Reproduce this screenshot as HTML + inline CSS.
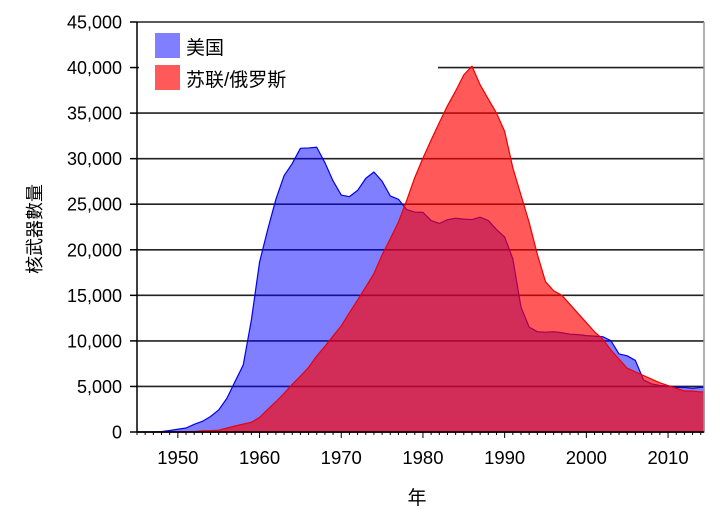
<!DOCTYPE html>
<html><head><meta charset="utf-8"><style>
html,body{margin:0;padding:0;background:#fff;}
svg{display:block;font-family:"Liberation Sans","Noto Sans CJK SC",sans-serif;}
</style></head><body>
<svg id="chart" width="720" height="522" viewBox="0 0 720 522"></svg>
<script>
const years = [];
for (let y = 1945; y <= 2014; y++) years.push(y);
const usValues = [2,9,13,50,170,299,438,841,1169,1703,2422,3692,5543,7345,12298,18638,22229,25540,28133,29463,31139,31175,31255,29561,27552,26008,25830,26516,27835,28537,27519,25914,25542,24418,24138,24104,23208,22886,23305,23459,23368,23317,23575,23205,22217,21392,19008,13708,11511,11012,10953,11011,10903,10732,10685,10577,10526,10457,10027,8570,8360,7853,5709,5273,5113,5066,4897,4881,4804,4900];
const ussrValues = [0,0,0,0,1,5,25,50,120,150,200,426,660,869,1060,1605,2471,3322,4238,5221,6129,7089,8339,9399,10538,11643,13092,14478,15915,17385,19443,21205,23044,25393,27935,30062,32049,33952,35804,37431,39197,40159,38107,36538,35000,33000,29000,26000,23000,19500,16500,15500,15000,14000,13000,12000,11000,10200,9000,8000,7000,6600,6200,5800,5400,5100,4800,4500,4500,4400];
const yTicks = [0,5000,10000,15000,20000,25000,30000,35000,40000,45000];
const xTicks = [1950,1960,1970,1980,1990,2000,2010];
const legendLabels = ["美国","苏联/俄罗斯"];

const NS = "http://www.w3.org/2000/svg";
const svg = document.getElementById("chart");
const L = 137, R = 704, T = 22, B = 432;
const x0 = 1945, x1 = 2014.4, yMax = 45000;
const xs = v => L + (v - x0) / (x1 - x0) * (R - L);
const ys = v => B - v / yMax * (B - T);
function el(tag, attrs, parent) {
  const e = document.createElementNS(NS, tag);
  for (const k in attrs) e.setAttribute(k, attrs[k]);
  (parent || svg).appendChild(e);
  return e;
}
yTicks.forEach(v => {
  const g = el("line", {x1: L, x2: R, y1: ys(v), y2: ys(v), stroke: v === 0 ? "#000" : "#222", "stroke-width": 1.6});
  
  
  const t = el("line", {x1: L - 7, x2: L, y1: ys(v), y2: ys(v), stroke: "#000", "stroke-width": 1.5});
  
  
  const lab = el("text", {x: 122, y: ys(v) + 6.5, "text-anchor": "end", "font-size": 18, fill: "#000"});
  lab.textContent = v.toLocaleString("en-US");
  
  
});
function areaPath2(vals) {
  let d = "M" + xs(years[0]) + "," + B;
  years.forEach((yr, i) => { d += " L" + xs(yr) + "," + ys(vals[i]); });
  d += " L" + R + "," + ys(vals[vals.length - 1]) + " L" + R + "," + B + " Z";
  return d;
}
const us = el("path", {d: areaPath2(usValues), fill: "rgba(0,0,255,0.5)", stroke: "#0000ee", "stroke-width": 1.2, "stroke-linejoin": "round"});


const su = el("path", {d: areaPath2(ussrValues), fill: "rgba(255,0,0,0.65)", stroke: "#ee0000", "stroke-width": 1.2, "stroke-linejoin": "round"});


const ax = el("line", {x1: L, x2: L, y1: T, y2: B, stroke: "#000", "stroke-width": 1.5});


const rb = el("line", {x1: R, x2: R, y1: T, y2: B, stroke: "#999", "stroke-width": 1.5});


const xa = el("line", {x1: L, x2: R, y1: B, y2: B, stroke: "#000", "stroke-width": 1.5});


years.forEach(yr => {
  const major = yr % 10 === 0;
  const t = el("line", {x1: xs(yr), x2: xs(yr), y1: B, y2: B + (major ? 6 : 3), stroke: "#000", "stroke-width": 1});
  
  
});
xTicks.forEach(yr => {
  const lab = el("text", {x: xs(yr), y: 464, "text-anchor": "middle", "font-size": 18.5, fill: "#000"});
  lab.textContent = yr;
  
  
});
const lg = el("g", {});


el("rect", {x: 139, y: 24, width: 299, height: 76, fill: "#fff"}, lg);
const colors = ["rgba(0,0,255,0.5)", "rgba(255,0,0,0.65)"];
legendLabels.forEach((s, i) => {
  const g = el("g", {}, lg);
  
  
  el("rect", {x: 155, y: 33 + i * 32, width: 25, height: 25, fill: colors[i]}, g);
  const t = el("text", {x: 186, y: 54 + i * 32, "font-size": 19, fill: "#000"}, g);
  t.textContent = s;
});
const yt = el("text", {x: 0, y: 0, "font-size": 18, "text-anchor": "middle", transform: "translate(41,229) rotate(-90)"});
yt.textContent = "核武器數量";


const xt = el("text", {x: 417, y: 504, "font-size": 19, "text-anchor": "middle"});
xt.textContent = "年";


</script>
</body></html>
